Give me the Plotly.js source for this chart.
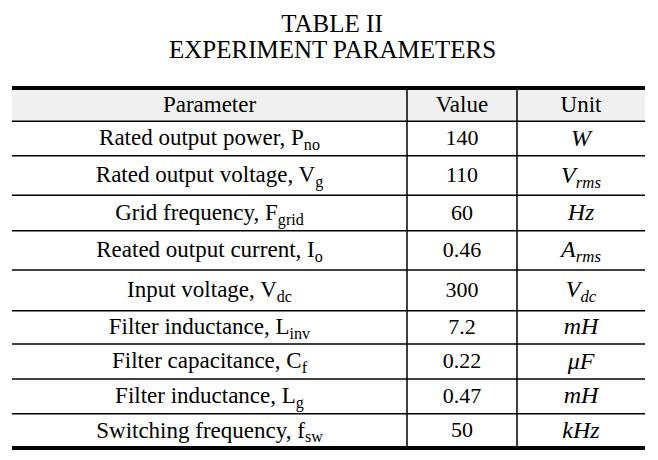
<!DOCTYPE html>
<html>
<head>
<meta charset="utf-8">
<script src="https://cdn.plot.ly/plotly-3.0.1.min.js"></script>
<style>html,body{margin:0;padding:0;background:#fff;}#chart{width:658px;height:460px;}</style>
</head>
<body>
<div id="chart"></div>
<script>
// ---- data ----
var headerLabels = ["Parameter", "Value", "Unit"];
var parameters = [
  "Rated output power, P<sub>no</sub>",
  "Rated output voltage, V<sub>g</sub>",
  "Grid frequency, F<sub>grid</sub>",
  "Reated output current, I<sub>o</sub>",
  "Input voltage, V<sub>dc</sub>",
  "Filter inductance, L<sub>inv</sub>",
  "Filter capacitance, C<sub>f</sub>",
  "Filter inductance, L<sub>g</sub>",
  "Switching frequency, f<sub>sw</sub>"
];
var values = ["140", "110", "60", "0.46", "300", "7.2", "0.22", "0.47", "50"];
var units = [
  "<i>W</i>",
  "<i>V<sub>rms</sub></i>",
  "<i>Hz</i>",
  "<i>A<sub>rms</sub></i>",
  "<i>V<sub>dc</sub></i>",
  "<i>mH</i>",
  "<i>μF</i>",
  "<i>mH</i>",
  "<i>kHz</i>"
];
var titleLine1 = "TABLE II";
var titleLine2 = "EXPERIMENT PARAMETERS";

// ---- layout / style (page pixels, 658x460) ----
var W = 658, H = 460;
var colEdges = [12, 407, 517, 645];          // table column boundaries
var tableTop = 90;
var rowHeights = [31.3, 34.4, 39.6, 35.4, 39.3, 40.7, 33.3, 35, 34.7, 34.3]; // header + 9 rows
var rowEdges = [tableTop];
rowHeights.forEach(function (h, i) { rowEdges.push(rowEdges[i] + h); });
var rowCenters = rowHeights.map(function (h, i) { return rowEdges[i] + h / 2 + 1; });
var colCenters = [0, 1, 2].map(function (i) { return (colEdges[i] + colEdges[i + 1]) / 2; });

var FONT = "Liberation Serif, Times New Roman, serif";

function colTrace(texts, col, fontSize, rowOffset) {
  return {
    type: "scatter", mode: "text",
    x: texts.map(function () { return colCenters[col]; }),
    y: texts.map(function (t, i) { return rowCenters[i + rowOffset]; }),
    text: texts,
    textposition: "middle center",
    textfont: { family: FONT, size: fontSize, color: "#000" },
    hoverinfo: "skip", showlegend: false, cliponaxis: false
  };
}

var traces = [
  colTrace(headerLabels, 0, 23, 0),
  colTrace(parameters, 0, 23, 1),
  colTrace(values, 1, 22, 1),
  colTrace(units, 2, 24, 1)
];
// header labels for the other two columns
traces[0].x = headerLabels.map(function (t, i) { return colCenters[i]; });
traces[0].y = headerLabels.map(function () { return rowCenters[0]; });

var shapes = [];
// header background
shapes.push({ type: "rect", xref: "x", yref: "y", x0: colEdges[0], x1: colEdges[3], y0: rowEdges[0], y1: rowEdges[1],
  fillcolor: "#f0f0f0", line: { width: 0 }, layer: "below" });
// inner horizontal rules
for (var r = 1; r < rowEdges.length - 1; r++) {
  shapes.push({ type: "line", xref: "x", yref: "y", x0: colEdges[0], x1: colEdges[3], y0: rowEdges[r], y1: rowEdges[r],
    line: { color: "#000", width: 1.5 } });
}
// inner vertical rules
[1, 2].forEach(function (c) {
  shapes.push({ type: "line", xref: "x", yref: "y", x0: colEdges[c], x1: colEdges[c], y0: rowEdges[0], y1: rowEdges[rowEdges.length - 1],
    line: { color: "#000", width: 1.5 } });
});
// thick top and bottom rules
shapes.push({ type: "line", xref: "x", yref: "y", x0: colEdges[0], x1: colEdges[3], y0: tableTop - 2, y1: tableTop - 2,
  line: { color: "#000", width: 4 } });
var last = rowEdges[rowEdges.length - 1];
shapes.push({ type: "line", xref: "x", yref: "y", x0: colEdges[0], x1: colEdges[3], y0: last, y1: last,
  line: { color: "#000", width: 4 } });

var hiddenAxis = { visible: false, showgrid: false, zeroline: false, fixedrange: true };
var layout = {
  width: W, height: H,
  margin: { l: 0, r: 0, t: 0, b: 0 },
  paper_bgcolor: "#fff", plot_bgcolor: "#fff",
  xaxis: Object.assign({ range: [0, W] }, hiddenAxis),
  yaxis: Object.assign({ range: [H, 0] }, hiddenAxis),
  title: {
    text: titleLine1,
    font: { family: FONT, size: 25, color: "#000" },
    x: 332 / W, xanchor: "center",
    y: 1 - 23 / H, yref: "container", yanchor: "middle"
  },
  annotations: [{
    text: titleLine2, showarrow: false,
    xref: "x", yref: "y",
    x: 332, y: 49, xanchor: "center", yanchor: "middle",
    font: { family: FONT, size: 25, color: "#000" }
  }],
  shapes: shapes,
  showlegend: false
};

Plotly.newPlot("chart", traces, layout, { displayModeBar: false, staticPlot: true });
</script>
</body>
</html>
